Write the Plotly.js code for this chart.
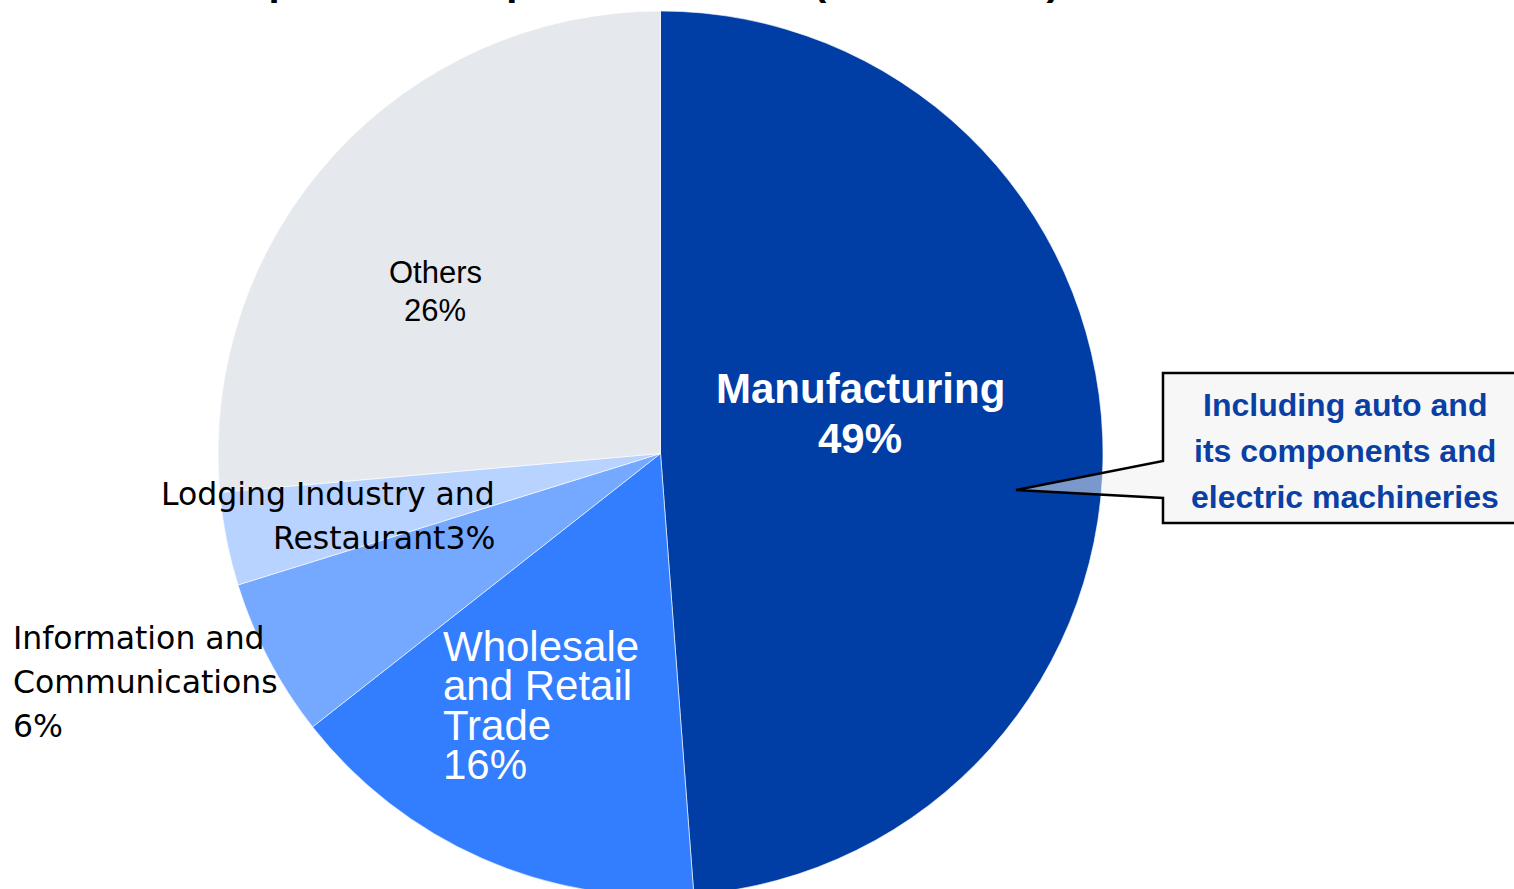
<!DOCTYPE html>
<html>
<head>
<meta charset="utf-8">
<script src="https://cdn.plot.ly/plotly-3.0.1.min.js"></script>
<style>
  html, body { margin: 0; padding: 0; overflow: hidden; background: #ffffff; width: 1514px; height: 889px; }
  #chart { position: absolute; left: 0; top: -60px; width: 1514px; height: 1010px; }
</style>
</head>
<body>
<div id="chart"></div>
<script>
// ---- data ----
var categories = ["Manufacturing", "Wholesale and Retail Trade", "Information and Communications", "Lodging Industry and Restaurant", "Others"];
var shares = [48.8, 15.6, 5.8, 3.4, 26.4];
var labelLines = [
  ["Manufacturing"],
  ["Wholesale", "and Retail", "Trade"],
  ["Information and", "Communications"],
  ["Lodging Industry and", "Restaurant"],
  ["Others"]
];
var pctOnOwnLine = [true, true, true, false, true];
var sliceColors = ["#003DA5", "#337DFF", "#75A8FF", "#B8D3FF", "#E5E8ED"];
var calloutLines = ["Including auto and", "its components and", "electric machineries"];
var titleText = "Japanese Companies in China (end of 2023)";

// ---- geometry helpers (page pixels -> paper) ----
var W = 1514, H = 1010, OFF = 60;
function px(x) { return x / W; }
function py(y) { return 1 - (y + OFF) / H; }

// ---- label styles / positions (layout only) ----
var labelStyle = [
  {x: 860, y0: 389, dy: 49, anchor: "center", font: {family: "Liberation Sans, Arial, sans-serif", size: 42, color: "#ffffff", weight: "bold"}},
  {x: 441, y0: 646, dy: 39.5, anchor: "left", font: {family: "Liberation Sans, Arial, sans-serif", size: 42, color: "#ffffff"}},
  {x: 11, y0: 638, dy: 44, anchor: "left", font: {family: "DejaVu Sans, sans-serif", size: 31.5, color: "#000000"}},
  {x: 497, y0: 494, dy: 44, anchor: "right", font: {family: "DejaVu Sans, sans-serif", size: 31.5, color: "#000000"}},
  {x: 435, y0: 272, dy: 38, anchor: "center", font: {family: "Liberation Sans, Arial, sans-serif", size: 31, color: "#000000"}}
];

var annotations = [];
function addLine(text, x, y, anchor, font) {
  annotations.push({
    text: text, xref: "paper", yref: "paper", x: px(x), y: py(y),
    xanchor: anchor, yanchor: "middle", showarrow: false, font: font, align: anchor
  });
}

for (var i = 0; i < categories.length; i++) {
  var lines = labelLines[i].slice();
  var pct = Math.round(shares[i]) + "%";
  if (pctOnOwnLine[i]) lines.push(pct); else lines[lines.length - 1] += pct;
  var s = labelStyle[i];
  for (var j = 0; j < lines.length; j++) {
    var t = s.font.weight === "bold" ? "<b>" + lines[j] + "</b>" : lines[j];
    addLine(t, s.x, s.y0 + j * s.dy, s.anchor, {family: s.font.family, size: s.font.size, color: s.font.color});
  }
}

for (var k = 0; k < calloutLines.length; k++) {
  addLine("<b>" + calloutLines[k] + "</b>", 1345, 405 + k * 46, "center",
    {family: "Liberation Sans, Arial, sans-serif", size: 32, color: "#0A3FA3"});
}

// title (mostly above the visible area)
annotations.push({
  text: "<b>" + titleText + "</b>", xref: "paper", yref: "paper",
  x: px(222), y: py(4.5), xanchor: "left", yanchor: "bottom", showarrow: false,
  font: {family: "Liberation Sans, Arial, sans-serif", size: 40, color: "#000000"}
});

// callout shape
function P(x, y) { return px(x).toFixed(5) + "," + py(y).toFixed(5); }
var calloutPath = "M" + P(1163, 373) + " L" + P(1530, 373) + " L" + P(1530, 523) + " L" + P(1163, 523) +
  " L" + P(1163, 498) + " L" + P(1016, 490) + " L" + P(1163, 461) + " Z";

var trace = {
  type: "pie",
  labels: categories,
  values: shares,
  sort: false,
  direction: "clockwise",
  rotation: 0,
  textinfo: "none",
  hoverinfo: "skip",
  showlegend: false,
  marker: {colors: sliceColors, line: {color: "#ffffff", width: 0.6}},
  domain: {x: [px(218), px(1103)], y: [py(896), py(11)]}
};

var layout = {
  width: W, height: H,
  margin: {l: 0, r: 0, t: 0, b: 0, pad: 0},
  paper_bgcolor: "#ffffff",
  showlegend: false,
  annotations: annotations,
  shapes: [{
    type: "path", xref: "paper", yref: "paper", path: calloutPath,
    fillcolor: "rgba(239,239,239,0.51)", line: {color: "#000000", width: 2.5}, layer: "above"
  }]
};

Plotly.newPlot("chart", [trace], layout, {displayModeBar: false, staticPlot: true});
</script>
</body>
</html>
